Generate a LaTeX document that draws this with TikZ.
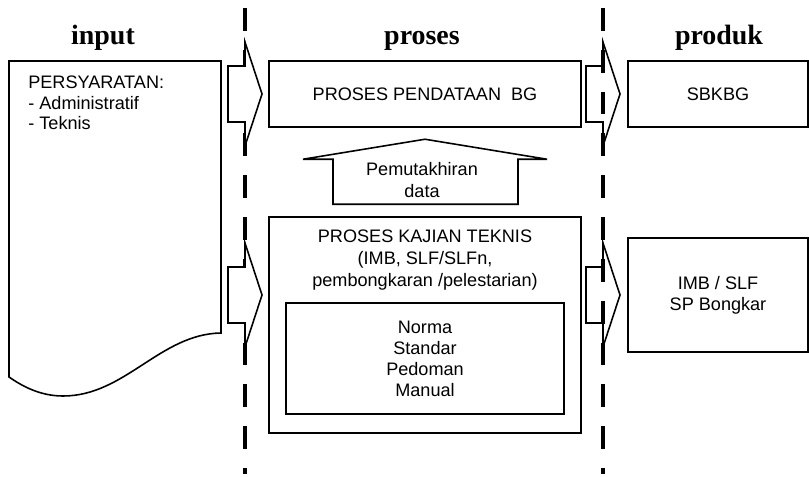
\documentclass[tikz,border=0pt]{standalone}
\usepackage{fontspec}
\setmainfont{Liberation Sans}
\newfontfamily\judulfont{Liberation Serif}
\usetikzlibrary{positioning}

% block arrow pointing right, #2 = centre of the arrow head base
\newcommand{\panahkanan}[2][]{%
  \draw[garis,#1] (#2) ++(-17,-28) -- ++(17,0) -- ++(0,-24) -- ++(17,52)
    -- ++(-17,52) -- ++(0,-24) -- ++(-17,0) -- cycle;}

\begin{document}
\begin{tikzpicture}[x=0.02cm,y=-0.02cm,font=\fontsize{10.3}{12}\selectfont,
  garis/.style={draw=black,line width=0.9pt},
  kotak/.style={garis,fill=white,align=center,inner sep=0pt},
  judul/.style={font=\judulfont\bfseries\fontsize{15.9}{18}\selectfont,anchor=base,inner sep=0pt},
  pemisah/.style={draw=black,line width=2.8pt,dash pattern=on 13pt off 10.8pt}]
  \useasboundingbox (0,0) rectangle (809,477);

  % input document
  \draw[line width=0.9pt,fill=white] (9,61) -- (221,61) -- (221,333)
    .. controls (160,334) and (125,396) .. (63,396)
    .. controls (40,396) and (22,386) .. (9,377) -- cycle;
  \node[anchor=north west,align=left,inner sep=0pt,font=\fontsize{10.3}{11.4}\selectfont]
       (syarat) at (28,76) {PERSYARATAN:\\- Administratif\\- Teknis};

  % column headings
  \node[judul] (hinput) at (103,44) {input};
  \node[judul] (hproses) at (422,44) {proses};
  \node[judul] (hproduk) at (719,44) {produk};

  % dividers
  \draw[pemisah] (245,8) -- (245,474);
  \draw[pemisah] (603,8) -- (603,474);

  % proses
  \node[kotak,minimum width=6.24cm,minimum height=1.32cm] (pendataan) at (425,94)
       {PROSES PENDATAAN\ \ BG};
  \node[kotak,minimum width=6.24cm,minimum height=4.32cm] (kajian) at (425,325) {};
  \node[align=center,inner sep=0pt,font=\fontsize{10.3}{12.5}\selectfont] (kajianteks) at (425,260)
       {PROSES KAJIAN TEKNIS\\(IMB, SLF/SLFn,\\pembongkaran /pelestarian)};
  \node[kotak,minimum width=5.56cm,minimum height=2.22cm] (nsp) at (425,358.5)
       {Norma\\Standar\\Pedoman\\Manual};

  % update arrow
  \draw[garis,fill=white] (kajian.north) ++(-92,-12) -- ++(0,-45) -- ++(-30,0)
    -- ++(122,-20) -- ++(122,20) -- ++(-29,0) -- ++(0,45) -- cycle;
  \node[align=center,inner sep=0pt] (pemutakhiran) at (422,180) {Pemutakhiran\\data};

  % produk
  \node[kotak,minimum width=3.6cm,minimum height=1.32cm] (sbkbg) at (718,94) {SBKBG};
  \node[kotak,minimum width=3.6cm,minimum height=2.28cm] (imb) at (718,295)
       {IMB / SLF\\SP Bongkar};

  % arrows across the dividers
  \coordinate (a1) at (245,94);
  \coordinate (a2) at (245,295);
  \coordinate (b1) at (603,94);
  \coordinate (b2) at (603,295);
  \panahkanan[fill=white]{a1}
  \panahkanan[fill=white]{a2}
  \panahkanan{b1}
  \panahkanan{b2}
\end{tikzpicture}
\end{document}
